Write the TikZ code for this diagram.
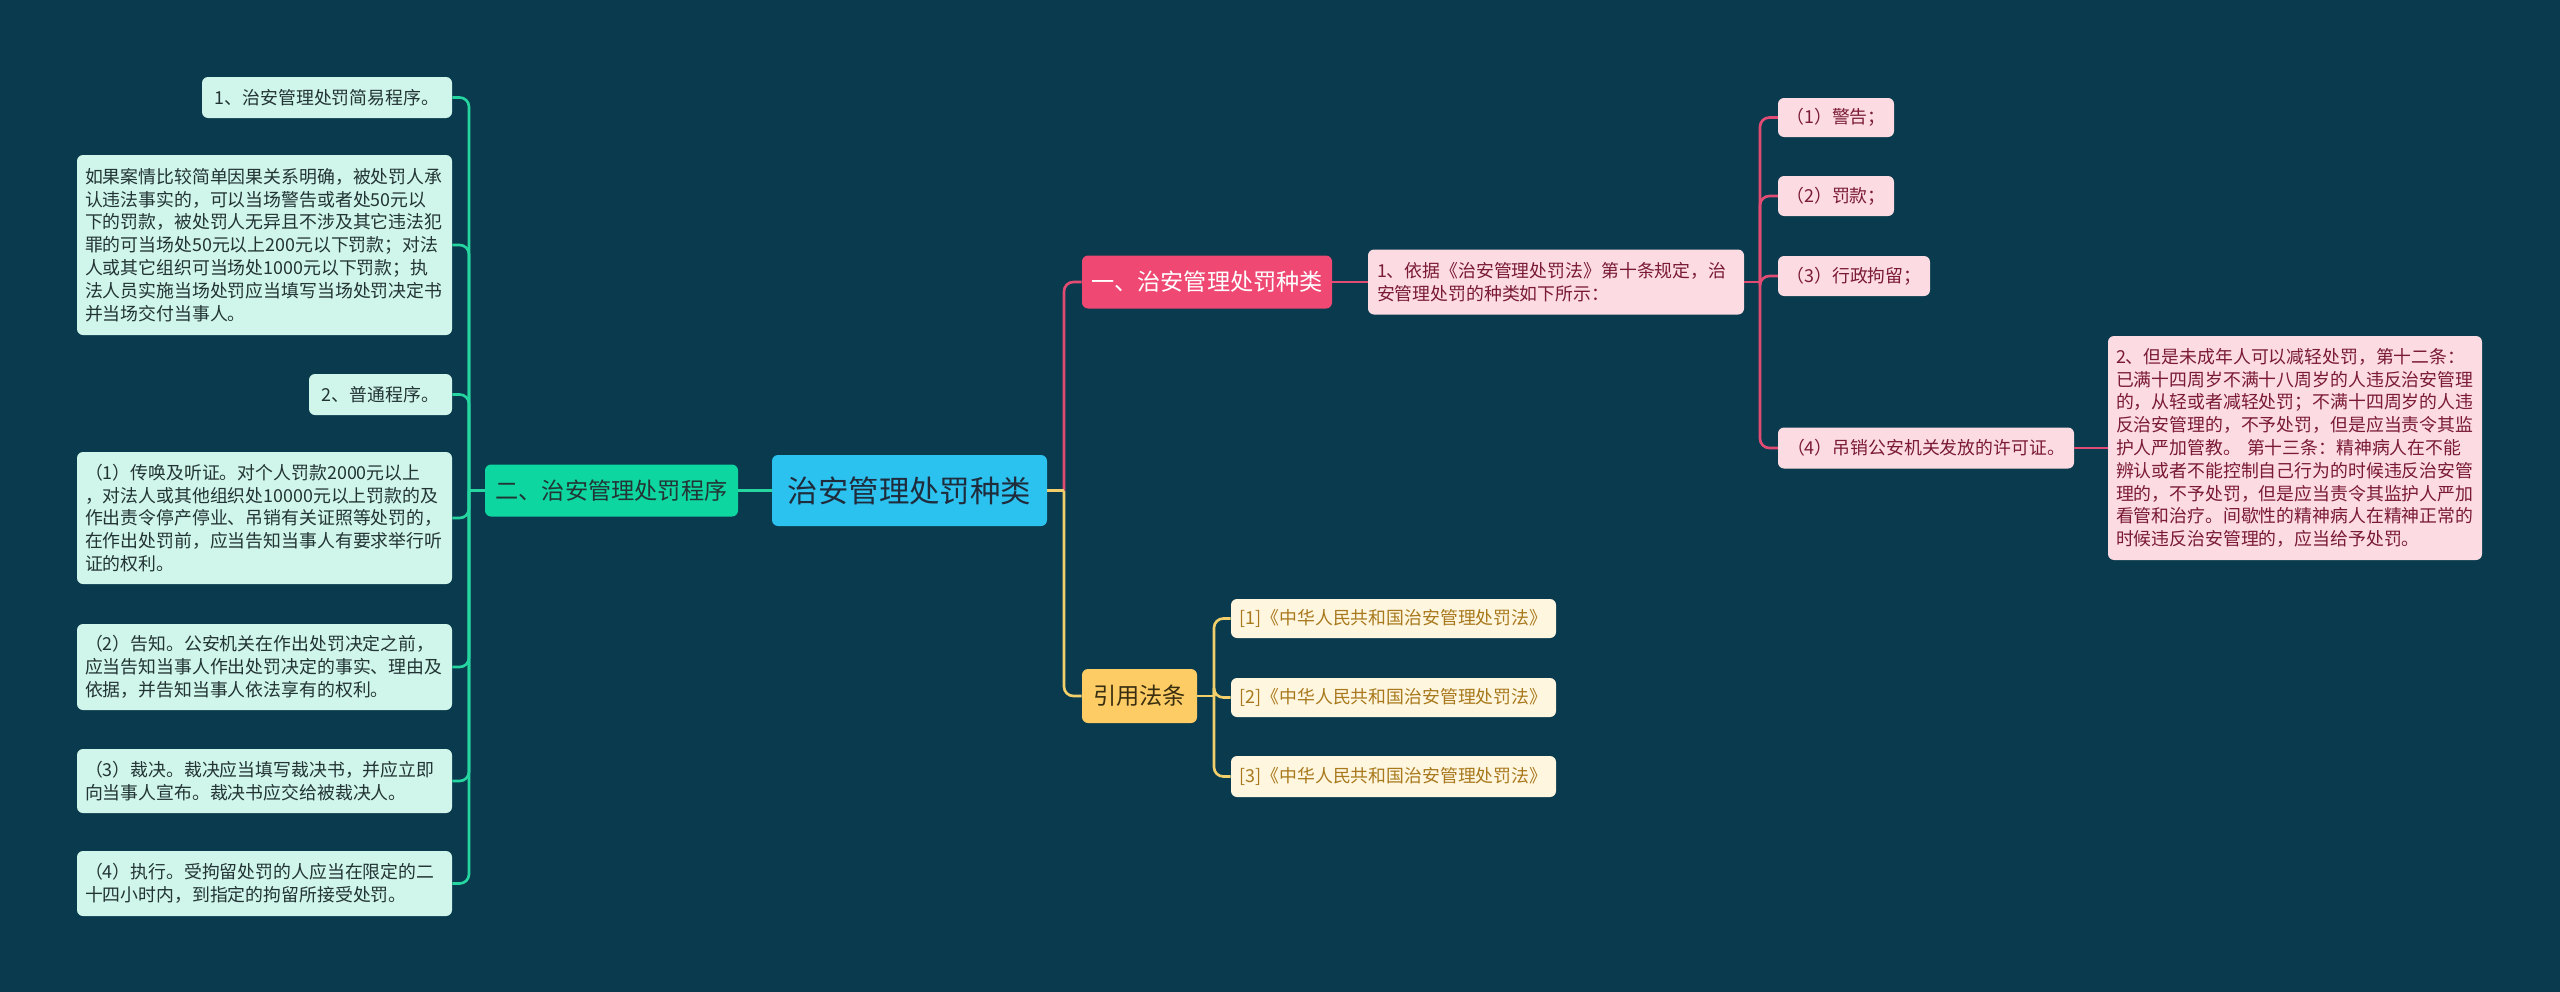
\documentclass[tikz,border=0pt]{standalone}
\usepackage{fontspec}
\setmainfont{Noto Sans CJK SC}
\definecolor{bg}{RGB}{9,58,77}
\definecolor{gline}{RGB}{38,214,160}
\definecolor{gfill}{RGB}{14,214,160}
\definecolor{gleaf}{RGB}{208,245,234}
\definecolor{gtext}{RGB}{34,52,52}
\definecolor{rootfill}{RGB}{44,194,240}
\definecolor{roottext}{RGB}{30,44,60}
\definecolor{pline}{RGB}{226,76,116}
\definecolor{pfill}{RGB}{238,72,115}
\definecolor{pleaf}{RGB}{252,220,226}
\definecolor{ptext}{RGB}{122,26,54}
\definecolor{yline}{RGB}{242,207,106}
\definecolor{yfill}{RGB}{253,204,100}
\definecolor{yleaf}{RGB}{255,246,224}
\definecolor{ytext}{RGB}{168,121,28}
\definecolor{ydark}{RGB}{58,46,16}
\begin{document}
\begin{tikzpicture}[x=0.75pt,y=-0.75pt,
  sz/.style 2 args={minimum width=#1*0.75pt, minimum height=#2*0.75pt},
  box/.style={rounded corners=4.5pt, inner sep=0pt, anchor=center},
  leaffont/.style={font=\fontsize{13.4}{17.1}\selectfont},
  lleaf/.style={box, fill=gleaf, text=gtext, leaffont},
  pleafn/.style={box, fill=pleaf, text=ptext, leaffont},
  yleafn/.style={box, fill=yleaf, text=ytext, leaffont},
  para/.style={align=left, text width=#1*0.75pt},
  branchfont/.style={font=\fontsize{17.4}{21}\selectfont},
  gcon/.style={draw=gline, line width=2pt, rounded corners=7pt},
  pcon/.style={draw=pline, line width=2pt, rounded corners=7pt},
  ycon/.style={draw=yline, line width=2pt, rounded corners=7pt}]
\fill[bg] (0,0) rectangle (2560,992);
\useasboundingbox (0,0) rectangle (2560,992);

% root
\node[box, fill=rootfill, text=roottext, sz={275}{71}, font=\fontsize{22.8}{26}\selectfont] (R) at (909.5,490.5) {治安管理处罚种类};

% left branch
\node[box, fill=gfill, text=gtext, sz={253}{52}, branchfont] (G) at (611.5,490.5) {二、治安管理处罚程序};
\node[lleaf, sz={250}{41}] (L1) at (327,97.5) {1、治安管理处罚简易程序。};
\node[lleaf, sz={375}{180}, para=359] (L2) at (264.5,245) {如果案情比较简单因果关系明确，被处罚人承\\认违法事实的，可以当场警告或者处50元以\\下的罚款，被处罚人无异且不涉及其它违法犯\\罪的可当场处50元以上200元以下罚款；对法\\人或其它组织可当场处1000元以下罚款；执\\法人员实施当场处罚应当填写当场处罚决定书\\并当场交付当事人。};
\node[lleaf, sz={143}{41}] (L3) at (380.5,394.5) {2、普通程序。};
\node[lleaf, sz={375}{132}, para=359] (L4) at (264.5,518) {（1）传唤及听证。对个人罚款2000元以上\\，对法人或其他组织处10000元以上罚款的及\\作出责令停产停业、吊销有关证照等处罚的，\\在作出处罚前，应当告知当事人有要求举行听\\证的权利。};
\node[lleaf, sz={375}{86}, para=359] (L5) at (264.5,667) {（2）告知。公安机关在作出处罚决定之前，\\应当告知当事人作出处罚决定的事实、理由及\\依据，并告知当事人依法享有的权利。};
\node[lleaf, sz={375}{64}, para=359] (L6) at (264.5,781) {（3）裁决。裁决应当填写裁决书，并应立即\\向当事人宣布。裁决书应交给被裁决人。};
\node[lleaf, sz={375}{65}, para=359] (L7) at (264.5,883.5) {（4）执行。受拘留处罚的人应当在限定的二\\十四小时内，到指定的拘留所接受处罚。};

% pink branch
\node[box, fill=pfill, text=white, sz={250}{53}, branchfont] (P) at (1207,282) {一、治安管理处罚种类};
\node[pleafn, sz={376}{65}, para=358] (P1) at (1556,282) {1、依据《治安管理处罚法》第十条规定，治\\安管理处罚的种类如下所示：};
\node[pleafn, sz={116}{39}] (Pa) at (1836,117.5) {（1）警告；};
\node[pleafn, sz={116}{40}] (Pb) at (1836,196) {（2）罚款；};
\node[pleafn, sz={152}{40}] (Pc) at (1854,276) {（3）行政拘留；};
\node[pleafn, sz={296}{41}] (Pd) at (1926,448) {（4）吊销公安机关发放的许可证。};
\node[pleafn, sz={374}{224}, para=358] (P2) at (2295,448) {2、但是未成年人可以减轻处罚，第十二条：\\已满十四周岁不满十八周岁的人违反治安管理\\的，从轻或者减轻处罚；不满十四周岁的人违\\反治安管理的，不予处罚，但是应当责令其监\\护人严加管教。 第十三条：精神病人在不能\\辨认或者不能控制自己行为的时候违反治安管\\理的，不予处罚，但是应当责令其监护人严加\\看管和治疗。间歇性的精神病人在精神正常的\\时候违反治安管理的，应当给予处罚。};

% yellow branch
\node[box, fill=yfill, text=ydark, sz={115}{54}, branchfont] (Y) at (1139.5,696) {引用法条};
\node[yleafn, sz={325}{39}] (Y1) at (1393.5,618.5) {[1]《中华人民共和国治安管理处罚法》};
\node[yleafn, sz={325}{39}] (Y2) at (1393.5,697.5) {[2]《中华人民共和国治安管理处罚法》};
\node[yleafn, sz={325}{41}] (Y3) at (1393.5,776.5) {[3]《中华人民共和国治安管理处罚法》};

% junction coordinates
\coordinate (jl) at (469,490.5);
\coordinate (jr) at (1064,490.5);
\coordinate (jp) at (1760,282);
\coordinate (jy) at (1214,696);

% connectors: left
\draw[gcon] (R.west) -- (G.east);
\draw[gcon] (G.west) -- (jl);
\foreach \n in {L1,L2,L3,L4,L5,L6,L7} \draw[gcon] (jl) |- (\n.east);

% connectors: right
\draw[pcon] (jr) |- (P.west);
\draw[ycon] (R.east) -- (jr);
\draw[ycon] (jr) |- (Y.west);
\draw[pcon] (P.east) -- (P1.west);
\draw[pcon] (P1.east) -- (jp);
\foreach \n in {Pa,Pb,Pc,Pd} \draw[pcon] (jp) |- (\n.west);
\draw[pcon] (Pd.east) -- (P2.west);
\draw[ycon] (Y.east) -- (jy);
\foreach \n in {Y1,Y2,Y3} \draw[ycon] (jy) |- (\n.west);
\end{tikzpicture}
\end{document}
